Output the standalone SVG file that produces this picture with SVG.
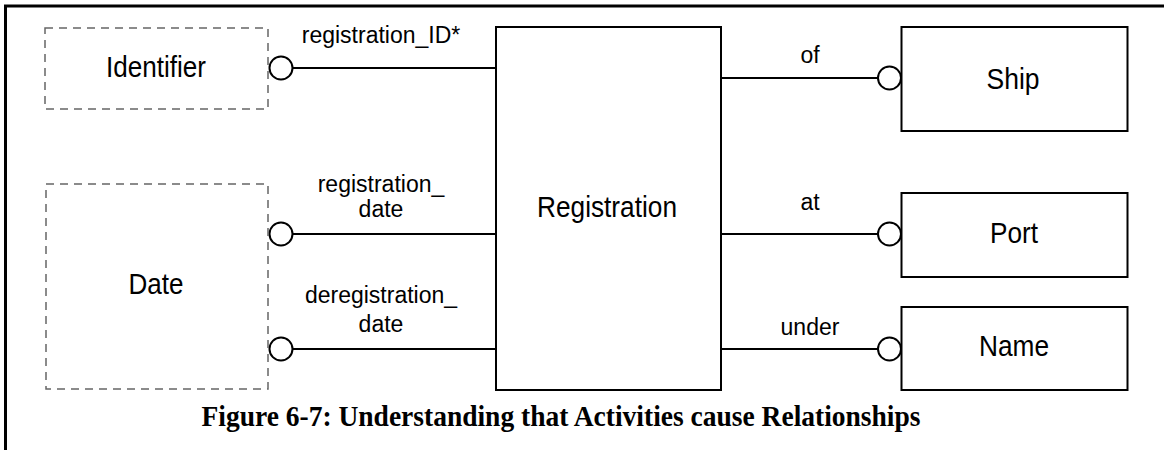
<svg xmlns="http://www.w3.org/2000/svg" width="1164" height="450" viewBox="0 0 1164 450">
  <style>
    .frame { fill: none; stroke: #000; stroke-width: 3; }
    .entity { fill: #fff; stroke: #000; stroke-width: 2; }
    .external { fill: #fff; stroke: #666; stroke-width: 1.5; stroke-dasharray: 8 6; }
    .link { fill: none; stroke: #000; stroke-width: 2; }
    .end { fill: #fff; stroke: #000; stroke-width: 2; }
    .name { font-family: "Liberation Sans", Arial, sans-serif; font-size: 29px; text-anchor: middle; fill: #000; }
    .role { font-family: "Liberation Sans", Arial, sans-serif; font-size: 23px; text-anchor: middle; fill: #000; }
    .caption { font-family: "Liberation Serif", "Times New Roman", serif; font-size: 30px; font-weight: bold; text-anchor: middle; fill: #000; }
  </style>

  <!-- page frame (top and left rules) -->
  <path class="frame" d="M5.5,450 V6 H1164"/>

  <!-- relationship lines with optional ends -->
  <g id="connectors">
    <line class="link" x1="293" y1="68" x2="496" y2="68"/>
    <circle class="end" cx="281" cy="68" r="11.5"/>
    <text class="role" x="381" y="43">registration_ID*</text>

    <line class="link" x1="293" y1="234" x2="496" y2="234"/>
    <circle class="end" cx="281" cy="234" r="11.5"/>
    <text class="role" x="381" y="192">registration_</text>
    <text class="role" x="381" y="217">date</text>

    <line class="link" x1="293" y1="349" x2="496" y2="349"/>
    <circle class="end" cx="281" cy="349" r="11.5"/>
    <text class="role" x="381" y="303">deregistration_</text>
    <text class="role" x="381" y="332">date</text>

    <line class="link" x1="721" y1="78" x2="878" y2="78"/>
    <circle class="end" cx="889.5" cy="78" r="11.5"/>
    <text class="role" x="810" y="63">of</text>

    <line class="link" x1="721" y1="234" x2="878" y2="234"/>
    <circle class="end" cx="889.5" cy="234" r="11.5"/>
    <text class="role" x="810" y="210">at</text>

    <line class="link" x1="721" y1="349" x2="878" y2="349"/>
    <circle class="end" cx="889.5" cy="349" r="11.5"/>
    <text class="role" x="810" y="335">under</text>
  </g>

  <g id="identifier">
    <rect class="external" x="45" y="28" width="223" height="81"/>
    <text class="name" x="156" y="77" textLength="100" lengthAdjust="spacingAndGlyphs">Identifier</text>
  </g>

  <g id="date">
    <rect class="external" x="46" y="184" width="222" height="205"/>
    <text class="name" x="156" y="294" textLength="55" lengthAdjust="spacingAndGlyphs">Date</text>
  </g>

  <g id="registration">
    <rect class="entity" x="496" y="27" width="225" height="363"/>
    <text class="name" x="607" y="217" textLength="140" lengthAdjust="spacingAndGlyphs">Registration</text>
  </g>

  <g id="ship">
    <rect class="entity" x="901.5" y="27" width="226" height="104"/>
    <text class="name" x="1013" y="89" textLength="53" lengthAdjust="spacingAndGlyphs">Ship</text>
  </g>

  <g id="port">
    <rect class="entity" x="901.5" y="193" width="226" height="84"/>
    <text class="name" x="1014" y="243" textLength="48" lengthAdjust="spacingAndGlyphs">Port</text>
  </g>

  <g id="name">
    <rect class="entity" x="901.5" y="307" width="226" height="83"/>
    <text class="name" x="1014" y="356" textLength="70" lengthAdjust="spacingAndGlyphs">Name</text>
  </g>

  <text class="caption" x="561" y="426" textLength="719" lengthAdjust="spacingAndGlyphs">Figure 6-7: Understanding that Activities cause Relationships</text>
</svg>
